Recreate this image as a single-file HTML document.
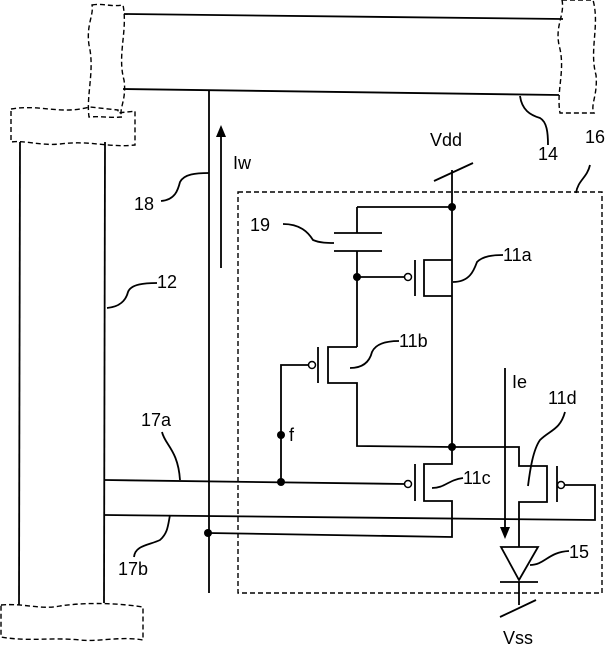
<!DOCTYPE html>
<html><head><style>
html,body{margin:0;padding:0;background:#fff;}
svg{display:block;}
text{font-family:"Liberation Sans",sans-serif;font-size:18px;fill:#000;}
</style></head><body>
<svg width="607" height="645" viewBox="0 0 607 645" xmlns="http://www.w3.org/2000/svg">
<g fill="none" stroke="#000" stroke-width="1.8">
<line x1="124" y1="14" x2="563" y2="19"/>
<line x1="123" y1="89" x2="559" y2="95"/>
<line x1="20" y1="142" x2="19" y2="605"/>
<line x1="105" y1="142" x2="104" y2="603"/>
<line x1="209" y1="90" x2="209" y2="593"/>
<line x1="221" y1="268" x2="221" y2="135"/>
<line x1="452" y1="170" x2="452" y2="447"/>
<line x1="434" y1="181" x2="473" y2="163"/>
<line x1="357" y1="207" x2="452" y2="207"/>
<line x1="357" y1="207" x2="357" y2="233"/>
<line x1="334" y1="233" x2="382" y2="233"/>
<line x1="334" y1="251" x2="382" y2="251"/>
<line x1="357" y1="251" x2="357" y2="347"/>
<line x1="357" y1="277" x2="405" y2="277"/>
<line x1="415" y1="260" x2="415" y2="296"/>
<polyline points="452,260 424,260 424,296 452,296"/>
<polyline points="357,347 328,347 328,383 357,383 357,446 452,447"/>
<line x1="318" y1="347" x2="318" y2="383"/>
<polyline points="309,365 281,365 281,482"/>
<polyline points="452,447 452,464 424,464 424,501 452,501 452,537 208,533"/>
<line x1="415" y1="464" x2="415" y2="501"/>
<line x1="105" y1="480" x2="405" y2="484"/>
<polyline points="105,515 595,520 595,485 565,485"/>
<polyline points="452,447 519,447 519,466 547,466 547,502 519,502 519,547"/>
<line x1="557" y1="466" x2="557" y2="502"/>
<polygon points="501,547 538,547 519,580"/>
<line x1="500" y1="582" x2="538" y2="582"/>
<line x1="519" y1="582" x2="519" y2="605"/>
<line x1="500" y1="617" x2="536" y2="600"/>
<line x1="505" y1="368" x2="505" y2="528"/>
<path d="M161,201 C175,200 178,190 180,182 C184,174 196,173 209,173"/>
<path d="M107,308 C120,307 126,300 128,292 C131,284 145,283 157,283"/>
<path d="M520,96 C522,110 530,115 540,118 C547,122 548,133 548,145"/>
<path d="M576,193 C578,180 587,178 590,165"/>
<path d="M283,224 C300,224 308,232 313,240 C320,243 328,243 334,243"/>
<path d="M453,282 C470,282 474,270 477,262 C483,256 493,255 503,255"/>
<path d="M350,368 C365,368 370,360 372,352 C376,343 388,341 399,341"/>
<path d="M432,488 C445,488 448,480 463,478"/>
<path d="M528,486 C530,470 533,450 540,440 C550,430 560,430 565,412"/>
<path d="M530,565 C545,565 548,552 569,551"/>
<path d="M162,432 C165,445 178,450 180,480"/>
<path d="M134,557 C135,545 150,545 160,540 C168,533 168,525 170,515"/>
</g>
<g fill="none" stroke="#000" stroke-width="1.4" stroke-dasharray="5,3">
<rect x="238" y="192" width="364" height="401"/>
<path d="M92,5 C103,3 110,7 123,5 C128,30 117,55 124,80 C127,100 118,110 122,117 C110,118 100,116 89,117 C86,95 95,70 89,45 C86,25 94,15 92,5 Z"/>
<path d="M562,0 L593,0 C600,25 589,50 596,75 C598,95 590,105 594,113 L560,113 C556,90 566,70 559,45 C555,25 565,15 562,0 Z"/>
<path d="M11,109 C40,104 60,115 90,107 L118,110 L118,113 C125,112 130,112 135,111 L135,145 C110,148 90,140 60,144 C40,146 25,140 11,142 Z"/>
<path d="M1,605 C25,603 40,610 60,606 C80,603 110,602 143,607 L143,640 C120,636 100,642 80,640 C50,637 30,642 1,637 Z"/>
</g>
<g fill="#000">
<polygon points="221,125 216,137 226,137"/>
<polygon points="505,539 500,527 510,527"/>
<circle cx="452" cy="207" r="4"/>
<circle cx="357" cy="277" r="4"/>
<circle cx="281" cy="435" r="4"/>
<circle cx="281" cy="482" r="4"/>
<circle cx="452" cy="447" r="4"/>
<circle cx="208" cy="533" r="4"/>
</g>
<g fill="#fff" stroke="#000" stroke-width="1.5">
<circle cx="408" cy="277" r="3.5"/>
<circle cx="312" cy="365" r="3.5"/>
<circle cx="408" cy="484" r="3.5"/>
<circle cx="561" cy="485" r="3.5"/>
</g>
<text x="430" y="146">Vdd</text>
<text x="538" y="160">14</text>
<text x="585" y="143">16</text>
<text x="233" y="169">Iw</text>
<text x="134" y="210">18</text>
<text x="157" y="288">12</text>
<text x="250" y="231">19</text>
<text x="503" y="261">11a</text>
<text x="399" y="347">11b</text>
<text x="512" y="388">Ie</text>
<text x="548" y="404">11d</text>
<text x="289" y="441">f</text>
<text x="141" y="426">17a</text>
<text x="463" y="484">11c</text>
<text x="569" y="558">15</text>
<text x="118" y="575">17b</text>
<text x="503" y="644">Vss</text>
</svg>
</body></html>
